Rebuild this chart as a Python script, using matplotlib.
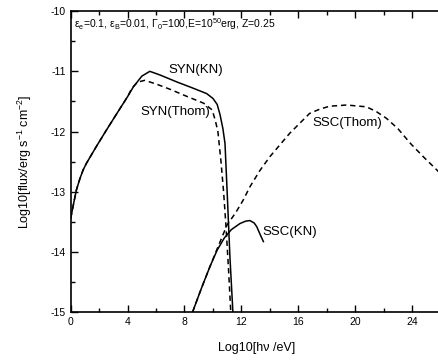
import numpy as np
import matplotlib
matplotlib.use('Agg')
import matplotlib.pyplot as plt
from matplotlib.ticker import MultipleLocator

plt.rcParams['font.family'] = ['Liberation Sans', 'DejaVu Sans']
plt.rcParams['mathtext.fontset'] = 'custom'
plt.rcParams['mathtext.rm'] = 'Liberation Sans'
plt.rcParams['mathtext.it'] = 'Liberation Sans:italic'
plt.rcParams['axes.unicode_minus'] = False

# synchrotron, Klein-Nishina
syn_kn_x = [0, 0.2, 0.4, 0.65, 0.87, 1.1, 1.8, 2.5, 3.3, 4.0, 4.4, 5.0, 5.56, 6.27,
            7.5, 8.5, 9.56, 10.0, 10.3, 10.5, 10.7, 10.85, 11.0, 11.2, 11.45]
syn_kn_y = [-13.44, -13.2, -12.97, -12.78, -12.64, -12.53, -12.25, -11.98, -11.68,
            -11.42, -11.26, -11.08, -11.0, -11.06, -11.18, -11.27, -11.37, -11.45,
            -11.55, -11.72, -11.95, -12.2, -13.0, -14.1, -15.2]

# synchrotron, Thomson
syn_th_x = [0, 0.2, 0.4, 0.65, 0.87, 1.1, 1.8, 2.5, 3.3, 4.0, 4.3, 4.7, 5.2, 6.0,
            7.0, 8.0, 9.35, 9.94, 10.15, 10.35, 10.56, 10.75, 10.92, 11.1, 11.3]
syn_th_y = [-13.44, -13.2, -12.97, -12.78, -12.64, -12.53, -12.25, -11.98, -11.68,
            -11.42, -11.28, -11.18, -11.15, -11.21, -11.3, -11.4, -11.53, -11.64,
            -11.8, -12.0, -12.48, -13.0, -13.58, -14.3, -15.2]

# SSC, Klein-Nishina
ssc_kn_x = [8.57, 9.2, 9.8, 10.3, 10.8, 11.3, 11.9, 12.3, 12.6, 12.9, 13.08, 13.3, 13.55]
ssc_kn_y = [-15.0, -14.6, -14.24, -13.97, -13.77, -13.63, -13.53, -13.49, -13.48,
            -13.52, -13.58, -13.7, -13.83]

# SSC, Thomson
ssc_th_x = [8.57, 9.2, 9.8, 10.3, 11.0, 11.6, 12.13, 12.6, 13.3, 14.0, 15.4, 16.8, 17.5,
            18.2, 19.4, 20.8, 21.5, 22.2, 23.0, 23.9, 24.8, 25.75, 26.0]
ssc_th_y = [-15.0, -14.6, -14.24, -13.95, -13.55, -13.35, -13.14, -12.92, -12.65, -12.42,
            -12.03, -11.7, -11.63, -11.58, -11.56, -11.59, -11.67, -11.78, -11.95,
            -12.2, -12.42, -12.64, -12.7]

fig = plt.figure(figsize=(4.38, 3.6), dpi=100)
ax = fig.add_axes([0.1615, 0.1333, 0.844, 0.8357])

dash = (0, (3.5, 2.5))
ax.plot(syn_kn_x, syn_kn_y, color='k', lw=1.1)
ax.plot(syn_th_x, syn_th_y, color='k', lw=1.1, linestyle=dash)
ax.plot(ssc_kn_x, ssc_kn_y, color='k', lw=1.1)
ax.plot(ssc_th_x, ssc_th_y, color='k', lw=1.1, linestyle=dash)

ax.set_xlim(0, 26)
ax.set_ylim(-15, -10)
ax.xaxis.set_major_locator(MultipleLocator(4))
ax.xaxis.set_minor_locator(MultipleLocator(2))
ax.yaxis.set_major_locator(MultipleLocator(1))
ax.yaxis.set_minor_locator(MultipleLocator(0.5))
ax.tick_params(which='both', direction='in', top=True, labelsize=7.5, width=1.0)
ax.tick_params(which='major', length=5)
ax.tick_params(which='minor', length=3)
for s in ax.spines.values():
    s.set_linewidth(1.2)

ax.text(4.9, -11.67, 'SYN(Thom)', fontsize=9.5, va='center')
ax.text(6.9, -10.98, 'SYN(KN)', fontsize=9.5, va='center')
ax.text(17.0, -11.86, 'SSC(Thom)', fontsize=9.5, va='center')
ax.text(13.5, -13.67, 'SSC(KN)', fontsize=9.5, va='center')
ax.text(0.2, -10.21,
        r'ε$_\mathrm{e}$=0.1, ε$_\mathrm{B}$=0.01, Γ$_\mathrm{0}$=100,E=10$^{50}$erg, Z=0.25',
        fontsize=7.5, va='center')

fig.text(0.587, 0.033, 'Log10[hν /eV]', fontsize=9, ha='center', va='center')
fig.text(0.057, 0.551, r'Log10[flux/erg s$^{-1}$ cm$^{-2}$]', fontsize=9,
         rotation=90, ha='center', va='center')

fig.savefig('out.png', dpi=100)
